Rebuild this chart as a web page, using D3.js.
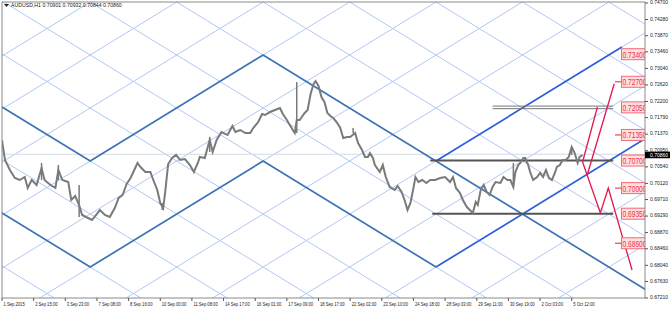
<!DOCTYPE html>
<html>
<head>
<meta charset="utf-8">
<script src="https://cdn.jsdelivr.net/npm/d3@7/dist/d3.min.js"></script>
<style>
body { margin: 0; background: #fff; }
svg { display: block; font-family: "Liberation Sans", "DejaVu Sans", sans-serif; }
</style>
</head>
<body>
<script>
// hourly bar index of each traced point and the price there
var priceBars = [0,3,8,13,18,23,26,30,35,40,43,49,54,57,61,67,70,74,78,81,87,91,95,99,104,109,114,118,122,126,130,137,140,145,150,153,157,160,163,165,168,172,176,180,185,190,194,198,200,205,210,213,217,222,228,233,236,241,246,251,254,259,263,266,271,276,281,284,288,291,294,296,298,301,306,309,312,315,317,320,323,326,329,332,335,339,342,345,349,352,357,360,364,367,370,372,375,377,382,385,388,392,397,400,404,407,410,413,416,418,421,425,429,433,438,443,448,453,456,459,463,466,470,473,476,479,481,484,487,490,493,496,499,504,507,511,514,517,519,522,524,527,529,532,534,537,541,544,547,550,553,556,559,561,564,567,570,573,576,579,582,584,587];
var priceValues = [0.71221,0.70714,0.70460,0.70257,0.70206,0.70282,0.70003,0.70206,0.70079,0.70511,0.70206,0.70079,0.70003,0.70460,0.70206,0.70155,0.69698,0.69800,0.69571,0.69317,0.69241,0.69190,0.69317,0.69444,0.69317,0.69266,0.69495,0.69749,0.69825,0.70104,0.70257,0.70638,0.70536,0.70409,0.70409,0.70206,0.69952,0.69622,0.69495,0.69901,0.70612,0.70764,0.70841,0.70714,0.70739,0.70587,0.70409,0.70638,0.70790,0.70764,0.71221,0.70917,0.71221,0.71424,0.71348,0.71577,0.71424,0.71475,0.71399,0.71399,0.71526,0.71678,0.71881,0.71856,0.71932,0.71983,0.72034,0.71881,0.71729,0.71602,0.71475,0.71399,0.71729,0.71729,0.71907,0.71983,0.72389,0.72643,0.72719,0.72593,0.72313,0.72186,0.71907,0.71831,0.71780,0.71653,0.71526,0.71272,0.71298,0.71298,0.71399,0.71145,0.70968,0.70790,0.70790,0.70891,0.70764,0.70587,0.70409,0.70587,0.70282,0.70028,0.69952,0.70054,0.69901,0.69698,0.69444,0.69622,0.70003,0.70282,0.70155,0.70206,0.70130,0.70206,0.70206,0.70257,0.70282,0.70155,0.70282,0.70003,0.69876,0.69698,0.69520,0.69444,0.69368,0.69647,0.69571,0.69952,0.70079,0.69901,0.69825,0.70028,0.70155,0.70130,0.70282,0.70206,0.70206,0.70028,0.70409,0.70587,0.70638,0.70764,0.70764,0.70587,0.70409,0.70206,0.70282,0.70384,0.70282,0.70460,0.70257,0.70206,0.70384,0.70536,0.70587,0.70714,0.70714,0.70790,0.71044,0.70891,0.70638,0.70790,0.70841];
// [bar, high, low] for the long single-bar wicks
var spikes = [[40,0.70638,0.70206],[57,0.70587,0.70206],[78,0.70079,0.69266],[162,0.69622,0.69444],[210,0.71298,0.70917],[298,0.72694,0.71399],[355,0.71526,0.71399],[517,0.70638,0.70028],[576,0.71044,0.70841]];

var timeLabels = ["1 Sep 2015","2 Sep 15:00","3 Sep 23:00","7 Sep 08:00","8 Sep 16:00","10 Sep 00:00","11 Sep 08:00","14 Sep 17:00","16 Sep 01:00","17 Sep 09:00","18 Sep 17:00","22 Sep 02:00","23 Sep 10:00","24 Sep 18:00","28 Sep 03:00","29 Sep 11:00","30 Sep 19:00","2 Oct 03:00","5 Oct 12:00"];
var barsPerLabel = 32;
var priceTicks = [0.74700,0.74280,0.73870,0.73460,0.73040,0.72620,0.72200,0.71790,0.71370,0.70950,0.70540,0.70120,0.69710,0.69290,0.68870,0.68460,0.68040,0.67630,0.67210];
var lastPrice = 0.70860;
var titleText = "AUDUSD,H1  0.70901 0.70932 0.70844 0.70860";

// gann grid: crossing node, half step in bars and price
var gannAnchor = [264, 0.7338];
var gannHalf = [43.7, 0.00673];
// thick grid segments as node lists [a, b] (a: half steps in time, b: half steps down in price)
var steelPaths = [[[-6.2,1.8],[-4,4],[0,0],[9.5,9.5]], [[-6.2,5.8],[-4,8],[0,4],[4,8]]];
var bluePaths = [[[4,8],[9.5,2.5]], [[4,4],[8.3,-0.3]]];

// horizontal levels [price, fromBar, toBar]
var blackLevels = [[0.70700,433,618],[0.69350,435,618]];
var doubleLevel = [0.72050,496,618];
// red scenarios [bar, price]
var redPaths = [
  [[587,0.70663],[605,0.69368],[613,0.70003],[637,0.67921]],
  [[587,0.70663],[602,0.72059]],
  [[592,0.70358],[619,0.72650]]
];
var redLevels = [0.73400,0.72700,0.72050,0.71350,0.70700,0.70000,0.69350,0.68600];
var redDashLevels = [0.72700,0.71350,0.70000,0.68600];

var W = 670, H = 309;
var L = 2, R = 645, T = 2, B = 298;

var x = d3.scaleLinear().domain([0, barsPerLabel]).range([2, 33.65]);
var y = d3.scaleLinear().domain([0.67210, 0.74700]).range([298, 3]);

var svg = d3.select("body").append("svg").attr("width", W).attr("height", H);

svg.append("clipPath").attr("id", "plot").append("rect")
  .attr("x", L).attr("y", T).attr("width", R - L).attr("height", B - T);

var g = svg.append("g").attr("clip-path", "url(#plot)");

function node(n) {
  return [gannAnchor[0] + n[0] * gannHalf[0], gannAnchor[1] - n[1] * gannHalf[1]];
}

// light gann lattice
for (var k = -12; k <= 20; k++) {
  var c = [gannAnchor[0] + 2 * k * gannHalf[0], gannAnchor[1]];
  [-1, 1].forEach(function(dir) {
    g.append("line")
      .attr("x1", x(c[0] - 20 * gannHalf[0])).attr("y1", y(c[1] + dir * 20 * gannHalf[1]))
      .attr("x2", x(c[0] + 20 * gannHalf[0])).attr("y2", y(c[1] - dir * 20 * gannHalf[1]))
      .attr("stroke", "#b0c8f4").attr("stroke-width", 1);
  });
}

// bid line
g.append("line").attr("x1", L).attr("x2", R).attr("y1", y(lastPrice)).attr("y2", y(lastPrice))
  .attr("stroke", "#d4dbe6").attr("stroke-width", 1);

var nodeLine = d3.line().x(function(d) { return x(node(d)[0]); }).y(function(d) { return y(node(d)[1]); });
steelPaths.forEach(function(p) {
  g.append("path").attr("d", nodeLine(p)).attr("fill", "none").attr("stroke", "#3e74b4").attr("stroke-width", 1.7);
});
bluePaths.forEach(function(p) {
  g.append("path").attr("d", nodeLine(p)).attr("fill", "none").attr("stroke", "#2f60dc").attr("stroke-width", 1.7);
});

// horizontal levels
blackLevels.forEach(function(l) {
  g.append("line").attr("x1", x(l[1])).attr("x2", x(l[2])).attr("y1", y(l[0])).attr("y2", y(l[0]))
    .attr("stroke", "#555").attr("stroke-width", 2);
});
[-1.3, 1.3].forEach(function(o) {
  g.append("line").attr("x1", x(doubleLevel[1])).attr("x2", x(doubleLevel[2]))
    .attr("y1", y(doubleLevel[0]) + o).attr("y2", y(doubleLevel[0]) + o)
    .attr("stroke", "#777").attr("stroke-width", 1);
});

// price
var priceLine = d3.line().x(function(d) { return x(d[0]); }).y(function(d) { return y(d[1]); });
var pts = priceBars.map(function(b, i) { return [b, priceValues[i]]; });
g.append("path").attr("d", priceLine(pts)).attr("fill", "none")
  .attr("stroke", "#7a7a7a").attr("stroke-width", 2).attr("stroke-linejoin", "miter");
spikes.forEach(function(s) {
  g.append("line").attr("x1", x(s[0])).attr("x2", x(s[0])).attr("y1", y(s[1])).attr("y2", y(s[2]))
    .attr("stroke", "#7a7a7a").attr("stroke-width", 1.5);
});

// red scenarios
redPaths.forEach(function(p) {
  g.append("path").attr("d", priceLine(p)).attr("fill", "none").attr("stroke", "#e3174b").attr("stroke-width", 1.3);
});
redDashLevels.forEach(function(v) {
  g.append("line").attr("x1", 615).attr("x2", 621).attr("y1", y(v)).attr("y2", y(v))
    .attr("stroke", "#f04060").attr("stroke-width", 1.2);
});
redLevels.forEach(function(v) {
  g.append("rect").attr("x", 621.5).attr("y", y(v) - 5.5).attr("width", 30).attr("height", 11)
    .attr("fill", "#ffdede").attr("stroke", "#f26a7a").attr("stroke-width", 1);
  g.append("text").attr("transform", "translate(622.5," + (y(v) + 3.4) + ") scale(0.7,1)")
    .attr("font-size", 9.5).attr("fill", "#ee2e46").text(v.toFixed(5));
});

// frame
svg.append("rect").attr("x", L).attr("y", T).attr("width", R - L).attr("height", B - T)
  .attr("fill", "none").attr("stroke", "#8a8a8a").attr("stroke-width", 1);

// price axis
priceTicks.forEach(function(v) {
  svg.append("line").attr("x1", R).attr("x2", R + 3).attr("y1", y(v)).attr("y2", y(v)).attr("stroke", "#555");
  svg.append("text").attr("x", R + 5).attr("y", y(v) + 1.2).attr("font-size", 5).attr("fill", "#222").text(v.toFixed(5));
});
svg.append("rect").attr("x", R).attr("y", y(lastPrice) - 2.6).attr("width", W - R).attr("height", 6.6).attr("fill", "#000");
svg.append("text").attr("x", R + 5).attr("y", y(lastPrice) + 2.6).attr("font-size", 5).attr("fill", "#fff").text(lastPrice.toFixed(5));

// time axis
timeLabels.forEach(function(t, i) {
  var xp = x(i * barsPerLabel);
  svg.append("line").attr("x1", xp).attr("x2", xp).attr("y1", B).attr("y2", B + 3).attr("stroke", "#555");
  svg.append("text").attr("transform", "translate(" + (xp + 1.5) + "," + (B + 7.5) + ") scale(0.8,1)")
    .attr("font-size", 5.2).attr("fill", "#222").text(t);
});

// title
svg.append("path").attr("d", "M4,4 L9,4 L6.5,7 Z").attr("fill", "#222");
svg.append("text").attr("x", 11).attr("y", 7.2).attr("font-size", 5.2).attr("fill", "#222").text(titleText);
</script>
</body>
</html>
